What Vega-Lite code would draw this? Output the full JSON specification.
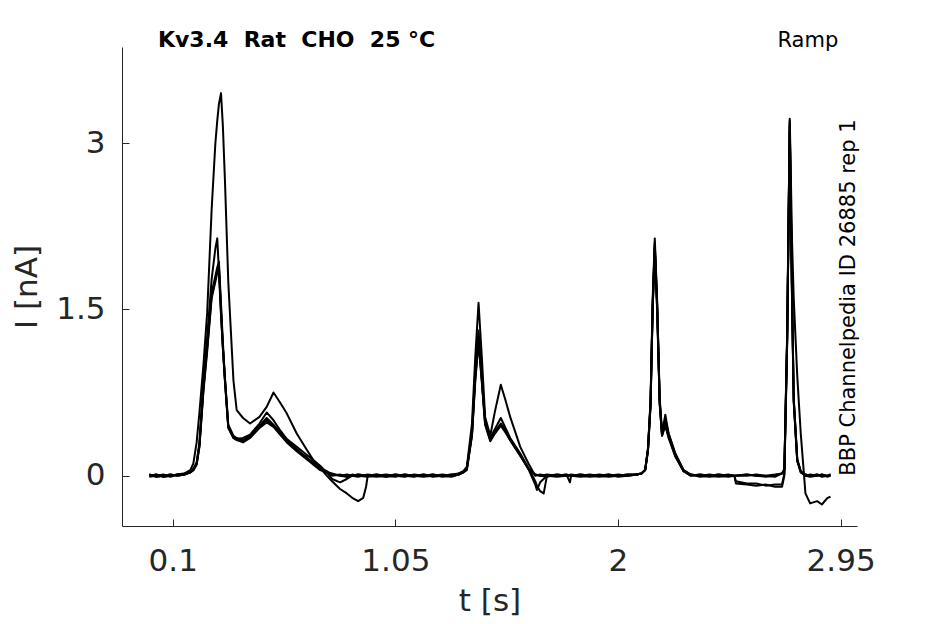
{
  "$schema": "https://vega.github.io/schema/vega-lite/v6.json",
  "width": 735,
  "height": 479,
  "autosize": {"type": "none"},
  "padding": {"left": 122, "top": 47, "right": 88, "bottom": 98},
  "background": "white",
  "config": {"view": {"stroke": null}, "font": "DejaVu Sans"},
  "layer": [
    {
      "data": {
        "values": [
          {"t": 0.0, "a": 0.0, "b": -0.01, "c": 0.01, "d": 0.0, "e": 0.01},
          {"t": 0.03, "a": 0.01, "b": 0.0, "c": -0.01, "d": 0.01, "e": -0.01},
          {"t": 0.06, "a": -0.01, "b": 0.01, "c": 0.0, "d": -0.01, "e": 0.0},
          {"t": 0.09, "a": 0.0, "b": -0.01, "c": 0.01, "d": 0.0, "e": 0.01},
          {"t": 0.12, "a": 0.01, "b": 0.01, "c": 0.0, "d": 0.01, "e": 0.0},
          {"t": 0.15, "a": 0.02, "b": 0.01, "c": 0.01, "d": 0.02, "e": 0.01},
          {"t": 0.175, "a": 0.05, "b": 0.03, "c": 0.03, "d": 0.03, "e": 0.03},
          {"t": 0.188, "a": 0.11, "b": 0.06, "c": 0.06, "d": 0.05, "e": 0.05},
          {"t": 0.202, "a": 0.3, "b": 0.12, "c": 0.11, "d": 0.1, "e": 0.1},
          {"t": 0.214, "a": 0.57, "b": 0.3, "c": 0.28, "d": 0.27, "e": 0.26},
          {"t": 0.231, "a": 1.0, "b": 0.86, "c": 0.8, "d": 0.78, "e": 0.76},
          {"t": 0.247, "a": 1.47, "b": 1.25, "c": 1.18, "d": 1.15, "e": 1.12},
          {"t": 0.266, "a": 2.4, "b": 1.77, "c": 1.65, "d": 1.62, "e": 1.6},
          {"t": 0.282, "a": 3.0, "b": 2.05, "c": 1.8, "d": 1.77, "e": 1.75},
          {"t": 0.29, "a": 3.2, "b": 2.14, "c": 1.88, "d": 1.85, "e": 1.83},
          {"t": 0.297, "a": 3.35, "b": 1.85, "c": 1.93, "d": 1.9, "e": 1.87},
          {"t": 0.306, "a": 3.45, "b": 1.45, "c": 1.55, "d": 1.5, "e": 1.47},
          {"t": 0.314, "a": 3.15, "b": 1.15, "c": 1.2, "d": 1.17, "e": 1.15},
          {"t": 0.323, "a": 2.65, "b": 0.86, "c": 0.88, "d": 0.86, "e": 0.84},
          {"t": 0.337, "a": 1.75, "b": 0.44, "c": 0.46, "d": 0.44, "e": 0.43},
          {"t": 0.359, "a": 0.86, "b": 0.35, "c": 0.36, "d": 0.34, "e": 0.34},
          {"t": 0.373, "a": 0.59, "b": 0.33, "c": 0.34, "d": 0.33, "e": 0.32},
          {"t": 0.4, "a": 0.52, "b": 0.34, "c": 0.32, "d": 0.31, "e": 0.3},
          {"t": 0.43, "a": 0.47, "b": 0.37, "c": 0.36, "d": 0.35, "e": 0.34},
          {"t": 0.47, "a": 0.53, "b": 0.47, "c": 0.45, "d": 0.44, "e": 0.43},
          {"t": 0.501, "a": 0.62, "b": 0.57, "c": 0.52, "d": 0.5, "e": 0.48},
          {"t": 0.53, "a": 0.75, "b": 0.5, "c": 0.46, "d": 0.45, "e": 0.44},
          {"t": 0.558, "a": 0.66, "b": 0.41, "c": 0.39, "d": 0.38, "e": 0.37},
          {"t": 0.587, "a": 0.56, "b": 0.33, "c": 0.32, "d": 0.31, "e": 0.3},
          {"t": 0.629, "a": 0.38, "b": 0.26, "c": 0.24, "d": 0.23, "e": 0.22},
          {"t": 0.67, "a": 0.24, "b": 0.19, "c": 0.16, "d": 0.17, "e": 0.15},
          {"t": 0.7, "a": 0.14, "b": 0.14, "c": 0.12, "d": 0.1, "e": 0.1},
          {"t": 0.729, "a": 0.07, "b": 0.09, "c": 0.07, "d": 0.06, "e": 0.05},
          {"t": 0.757, "a": 0.0, "b": 0.03, "c": 0.04, "d": 0.03, "e": 0.03},
          {"t": 0.78, "a": -0.05, "b": -0.03, "c": 0.01, "d": 0.02, "e": 0.0},
          {"t": 0.814, "a": -0.12, "b": -0.06, "c": 0.0, "d": 0.0, "e": 0.01},
          {"t": 0.843, "a": -0.16, "b": -0.03, "c": -0.01, "d": 0.01, "e": -0.01},
          {"t": 0.866, "a": -0.2, "b": 0.0, "c": 0.01, "d": 0.0, "e": 0.0},
          {"t": 0.891, "a": -0.23, "b": 0.01, "c": 0.0, "d": -0.01, "e": 0.01},
          {"t": 0.913, "a": -0.2},
          {"t": 0.925, "a": -0.1},
          {"t": 0.932, "a": 0.0, "b": 0.0, "c": -0.01, "d": 0.01, "e": 0.0},
          {"t": 0.97, "a": 0.01, "b": -0.01, "c": 0.0, "d": 0.0, "e": 0.01},
          {"t": 1.01, "a": -0.01, "b": 0.0, "c": 0.01, "d": -0.01, "e": 0.0},
          {"t": 1.05, "a": 0.0, "b": 0.01, "c": 0.0, "d": 0.01, "e": -0.01},
          {"t": 1.09, "a": 0.01, "b": 0.0, "c": -0.01, "d": 0.0, "e": 0.01},
          {"t": 1.13, "a": 0.0, "b": -0.01, "c": 0.01, "d": 0.0, "e": 0.0},
          {"t": 1.17, "a": -0.01, "b": 0.01, "c": 0.0, "d": 0.01, "e": 0.0},
          {"t": 1.21, "a": 0.0, "b": 0.0, "c": 0.01, "d": -0.01, "e": 0.01},
          {"t": 1.25, "a": 0.01, "b": 0.0, "c": 0.0, "d": 0.0, "e": -0.01},
          {"t": 1.29, "a": 0.0, "b": 0.01, "c": -0.01, "d": 0.01, "e": 0.0},
          {"t": 1.32, "a": 0.02, "b": 0.01, "c": 0.01, "d": 0.02, "e": 0.01},
          {"t": 1.34, "a": 0.04, "b": 0.03, "c": 0.03, "d": 0.03, "e": 0.03},
          {"t": 1.355, "a": 0.08, "b": 0.07, "c": 0.06, "d": 0.06, "e": 0.05},
          {"t": 1.377, "a": 0.47, "b": 0.4, "c": 0.38, "d": 0.37, "e": 0.36},
          {"t": 1.391, "a": 1.07, "b": 0.95, "c": 0.9, "d": 0.88, "e": 0.85},
          {"t": 1.405, "a": 1.56, "b": 1.31, "c": 1.25, "d": 1.22, "e": 1.2},
          {"t": 1.419, "a": 1.07, "b": 0.9, "c": 0.88, "d": 0.86, "e": 0.84},
          {"t": 1.433, "a": 0.53, "b": 0.5, "c": 0.48, "d": 0.47, "e": 0.46},
          {"t": 1.455, "a": 0.36, "b": 0.34, "c": 0.33, "d": 0.32, "e": 0.31},
          {"t": 1.475, "a": 0.58, "b": 0.42, "c": 0.4, "d": 0.39, "e": 0.38},
          {"t": 1.5, "a": 0.82, "b": 0.52, "c": 0.47, "d": 0.46, "e": 0.45},
          {"t": 1.52, "a": 0.68, "b": 0.43, "c": 0.41, "d": 0.4, "e": 0.39},
          {"t": 1.54, "a": 0.53, "b": 0.34, "c": 0.33, "d": 0.32, "e": 0.32},
          {"t": 1.583, "a": 0.26, "b": 0.2, "c": 0.19, "d": 0.18, "e": 0.18},
          {"t": 1.618, "a": 0.11, "b": 0.07, "c": 0.06, "d": 0.06, "e": 0.06},
          {"t": 1.647, "a": 0.0, "b": -0.05, "c": -0.08, "d": 0.01, "e": 0.01},
          {"t": 1.654, "b": -0.09, "c": -0.13},
          {"t": 1.668, "a": 0.01, "b": -0.14, "c": -0.06, "d": 0.0, "e": 0.0},
          {"t": 1.683, "b": -0.16},
          {"t": 1.697, "a": 0.0, "b": 0.0, "c": 0.0, "d": 0.01, "e": -0.01},
          {"t": 1.74, "a": 0.01, "b": -0.01, "c": 0.0, "d": 0.0, "e": 0.01},
          {"t": 1.78, "a": 0.0, "b": 0.0, "c": 0.01, "d": 0.01, "e": 0.0},
          {"t": 1.795, "d": -0.06},
          {"t": 1.8, "a": 0.0, "b": 0.01, "c": 0.0, "d": 0.0, "e": 0.0},
          {"t": 1.84, "a": -0.01, "b": 0.0, "c": 0.01, "d": 0.0, "e": 0.01},
          {"t": 1.88, "a": 0.0, "b": 0.01, "c": 0.0, "d": -0.01, "e": 0.0},
          {"t": 1.92, "a": 0.01, "b": 0.0, "c": -0.01, "d": 0.0, "e": 0.0},
          {"t": 1.96, "a": 0.0, "b": -0.01, "c": 0.0, "d": 0.01, "e": 0.01},
          {"t": 2.0, "a": 0.0, "b": 0.0, "c": 0.01, "d": 0.0, "e": -0.01},
          {"t": 2.04, "a": 0.01, "b": 0.01, "c": 0.0, "d": 0.0, "e": 0.0},
          {"t": 2.08, "a": 0.01, "b": 0.01, "c": 0.01, "d": 0.01, "e": 0.01},
          {"t": 2.1, "a": 0.02, "b": 0.02, "c": 0.02, "d": 0.02, "e": 0.02},
          {"t": 2.116, "a": 0.05, "b": 0.05, "c": 0.05, "d": 0.05, "e": 0.05},
          {"t": 2.128, "a": 0.25, "b": 0.24, "c": 0.23, "d": 0.23, "e": 0.22},
          {"t": 2.139, "a": 0.68, "b": 0.66, "c": 0.65, "d": 0.64, "e": 0.63},
          {"t": 2.148, "a": 1.59, "b": 1.55, "c": 1.52, "d": 1.5, "e": 1.5},
          {"t": 2.157, "a": 2.14, "b": 2.1, "c": 2.08, "d": 2.05, "e": 2.04},
          {"t": 2.167, "a": 1.59, "b": 1.55, "c": 1.55, "d": 1.52, "e": 1.5},
          {"t": 2.178, "a": 0.68, "b": 0.7, "c": 0.66, "d": 0.65, "e": 0.65},
          {"t": 2.188, "a": 0.38, "b": 0.4, "c": 0.37, "d": 0.36, "e": 0.36},
          {"t": 2.202, "a": 0.55, "b": 0.5, "c": 0.48, "d": 0.47, "e": 0.45},
          {"t": 2.216, "a": 0.38, "b": 0.38, "c": 0.36, "d": 0.35, "e": 0.34},
          {"t": 2.245, "a": 0.2, "b": 0.19, "c": 0.18, "d": 0.18, "e": 0.17},
          {"t": 2.28, "a": 0.05, "b": 0.05, "c": 0.04, "d": 0.04, "e": 0.04},
          {"t": 2.31, "a": 0.01, "b": 0.01, "c": 0.0, "d": 0.01, "e": 0.0},
          {"t": 2.35, "a": 0.0, "b": -0.01, "c": 0.01, "d": 0.0, "e": 0.01},
          {"t": 2.39, "a": 0.01, "b": 0.0, "c": 0.0, "d": -0.01, "e": 0.0},
          {"t": 2.43, "a": 0.0, "b": 0.01, "c": -0.01, "d": 0.0, "e": 0.01},
          {"t": 2.47, "a": -0.01, "b": 0.0, "c": 0.0, "d": 0.01, "e": 0.0},
          {"t": 2.497, "a": 0.0, "b": 0.0, "c": 0.0, "d": 0.0, "e": 0.0},
          {"t": 2.503, "b": -0.07, "c": -0.05},
          {"t": 2.55, "a": 0.01, "b": -0.08, "c": -0.07, "d": 0.0, "e": 0.01},
          {"t": 2.59, "a": 0.0, "b": -0.09, "c": -0.07, "d": 0.01, "e": 0.0},
          {"t": 2.63, "a": 0.0, "b": -0.08, "c": -0.09, "d": 0.0, "e": -0.01},
          {"t": 2.67, "a": 0.01, "b": -0.1, "c": -0.08, "d": -0.01, "e": 0.0},
          {"t": 2.7, "a": 0.02, "b": -0.1, "c": -0.08, "d": 0.02, "e": 0.02},
          {"t": 2.71, "a": 0.06, "b": 0.0, "c": 0.02, "d": 0.05, "e": 0.05},
          {"t": 2.722, "a": 1.29, "b": 1.2, "c": 1.22, "d": 1.25, "e": 1.24},
          {"t": 2.733, "a": 3.22, "b": 3.15, "c": 3.18, "d": 3.2, "e": 3.1},
          {"t": 2.743, "a": 2.1, "b": 1.59, "c": 1.6, "d": 1.58, "e": 1.55},
          {"t": 2.75, "a": 1.6, "b": 0.68, "c": 0.7, "d": 0.68, "e": 0.66},
          {"t": 2.765, "a": 0.9, "b": 0.14, "c": 0.15, "d": 0.14, "e": 0.13},
          {"t": 2.78, "a": 0.38, "b": 0.04, "c": 0.04, "d": 0.03, "e": 0.03},
          {"t": 2.8, "a": -0.16, "b": 0.0, "c": 0.01, "d": 0.0, "e": 0.01},
          {"t": 2.82, "a": -0.25, "b": 0.01, "c": 0.0, "d": -0.01, "e": 0.0},
          {"t": 2.85, "a": -0.23, "b": 0.0, "c": 0.01, "d": 0.0, "e": 0.01},
          {"t": 2.87, "a": -0.26, "b": 0.01, "c": 0.0, "d": 0.01, "e": -0.01},
          {"t": 2.894, "a": -0.2, "b": 0.0, "c": 0.0, "d": -0.01, "e": 0.0},
          {"t": 2.907, "a": -0.19, "b": 0.01, "c": 0.0, "d": 0.0, "e": 0.01}
        ]
      },
      "transform": [
        {"fold": ["a", "b", "c", "d", "e"], "as": ["trace", "i"]},
        {"filter": "isValid(datum.i)"}
      ],
      "mark": {"type": "line", "color": "black", "strokeWidth": 2, "strokeJoin": "round"},
      "encoding": {
        "x": {
          "field": "t", "type": "quantitative",
          "scale": {"domain": [-0.1165, 3.02], "nice": false, "zero": false},
          "axis": {
            "values": [0.1, 1.05, 2, 2.95], "labelExpr": "'' + datum.value", "title": "t [s]",
            "grid": false, "tickSize": -7, "labelPadding": 27, "titlePadding": 10,
            "labelFontSize": 31, "titleFontSize": 31, "titleFontWeight": "normal",
            "labelColor": "#262626", "titleColor": "#262626",
            "domainColor": "#262626", "tickColor": "#262626",
            "labelFont": "DejaVu Sans", "titleFont": "DejaVu Sans"
          }
        },
        "y": {
          "field": "i", "type": "quantitative",
          "scale": {"domain": [-0.454, 3.866], "nice": false, "zero": false},
          "axis": {
            "values": [0, 1.5, 3], "labelExpr": "'' + datum.value", "title": "I [nA]",
            "grid": false, "tickSize": -7, "labelPadding": 24, "titlePadding": 12,
            "labelFontSize": 31, "titleFontSize": 31, "titleFontWeight": "normal",
            "labelColor": "#262626", "titleColor": "#262626",
            "domainColor": "#262626", "tickColor": "#262626",
            "labelFont": "DejaVu Sans", "titleFont": "DejaVu Sans"
          }
        },
        "detail": {"field": "trace"}
      }
    },
    {
      "data": {"values": [{"label": "Kv3.4\u00a0 Rat\u00a0 CHO\u00a0 25 °C"}]},
      "mark": {"type": "text", "align": "left", "baseline": "alphabetic", "fontSize": 22, "fontWeight": "bold", "color": "black", "font": "DejaVu Sans"},
      "encoding": {
        "x": {"datum": 0.037},
        "y": {"datum": 3.866},
        "text": {"field": "label"}
      }
    },
    {
      "data": {"values": [{"label": "Ramp"}]},
      "mark": {"type": "text", "align": "right", "baseline": "alphabetic", "fontSize": 21, "color": "black", "font": "DejaVu Sans"},
      "encoding": {
        "x": {"datum": 2.94},
        "y": {"datum": 3.866},
        "text": {"field": "label"}
      }
    },
    {
      "data": {"values": [{"label": "BBP Channelpedia ID 26885 rep 1"}]},
      "mark": {"type": "text", "align": "left", "baseline": "middle", "angle": 270, "fontSize": 21, "color": "black", "font": "DejaVu Sans"},
      "encoding": {
        "x": {"datum": 2.987},
        "y": {"datum": 0},
        "text": {"field": "label"}
      }
    }
  ]
}
